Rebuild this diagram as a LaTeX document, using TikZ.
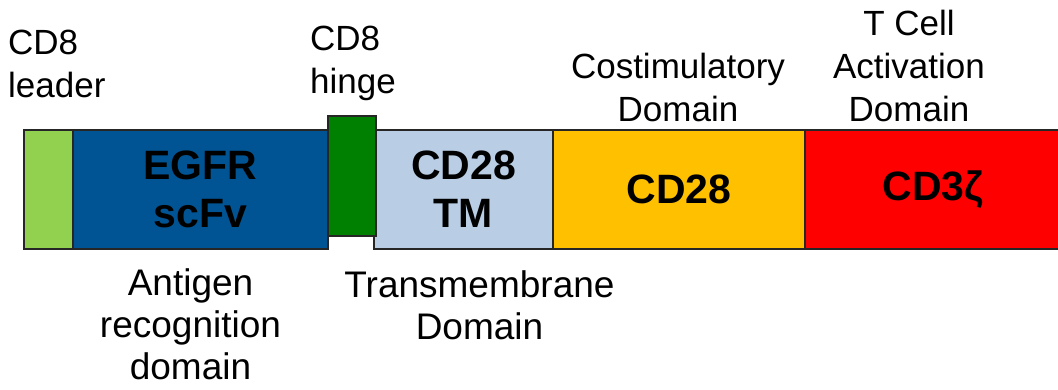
\documentclass[tikz,border=0pt]{standalone}
\usepackage{fontspec}
\setmainfont{Liberation Sans}
\usetikzlibrary{positioning}
\definecolor{carleader}{RGB}{146,208,80}
\definecolor{carscfv}{RGB}{0,84,147}
\definecolor{carhinge}{RGB}{0,128,0}
\definecolor{cartm}{RGB}{185,205,229}
\definecolor{carcostim}{RGB}{255,192,0}
\definecolor{carzeta}{RGB}{255,0,0}

\begin{document}
\begin{tikzpicture}[x=1pt,y=1pt,
  block/.style={draw=black!85, line width=1.2pt, anchor=south west,
    inner sep=0pt, outer sep=0pt, minimum height=119pt,
    font=\fontsize{41}{48}\selectfont\bfseries, align=center},
  domlabel/.style={font=\fontsize{35}{43}\selectfont, inner sep=0pt, align=center},
  sublabel/.style={font=\fontsize{37}{42}\selectfont, inner sep=0pt, align=center}]
\useasboundingbox (0,0) rectangle (1058,389);
% Receptor blocks
\node[block, fill=carleader, minimum width=49pt] (leader) at (24,140) {};
\node[block, fill=carscfv, minimum width=255pt] (scfv) at (73,140) {EGFR\\scFv};
\node[block, fill=cartm, minimum width=179pt] (tm) at (374,140) {CD28\\TM};
\node[block, fill=carcostim, minimum width=252pt] (costim) at (553,140) {CD28};
\node[block, fill=carzeta, minimum width=256pt] (zeta) at (805,140) {CD3ζ};
% Hinge sits on top
\node[block, fill=carhinge, minimum width=48pt, minimum height=120pt] (hinge) at (328,153) {};
% Top labels
\node[domlabel, align=left, anchor=south west] (leaderlbl) at (8,291) {CD8\\leader};
\node[domlabel, align=left, anchor=south west] (hingelbl) at (310,288) {CD8\\hinge};
\node[domlabel, above=8pt of costim, xshift=-1pt] (costimlbl) {Costimulatory\\Domain};
\node[domlabel, above=8pt of zeta, xshift=-24pt] (zetalbl) {T Cell\\Activation\\Domain};
% Bottom labels
\node[sublabel, below=19pt of scfv, xshift=-10pt] (scfvlbl) {Antigen\\recognition\\domain};
\node[sublabel, below=21pt of tm, xshift=16pt] (tmlbl) {Transmembrane\\Domain};
\end{tikzpicture}
\end{document}
